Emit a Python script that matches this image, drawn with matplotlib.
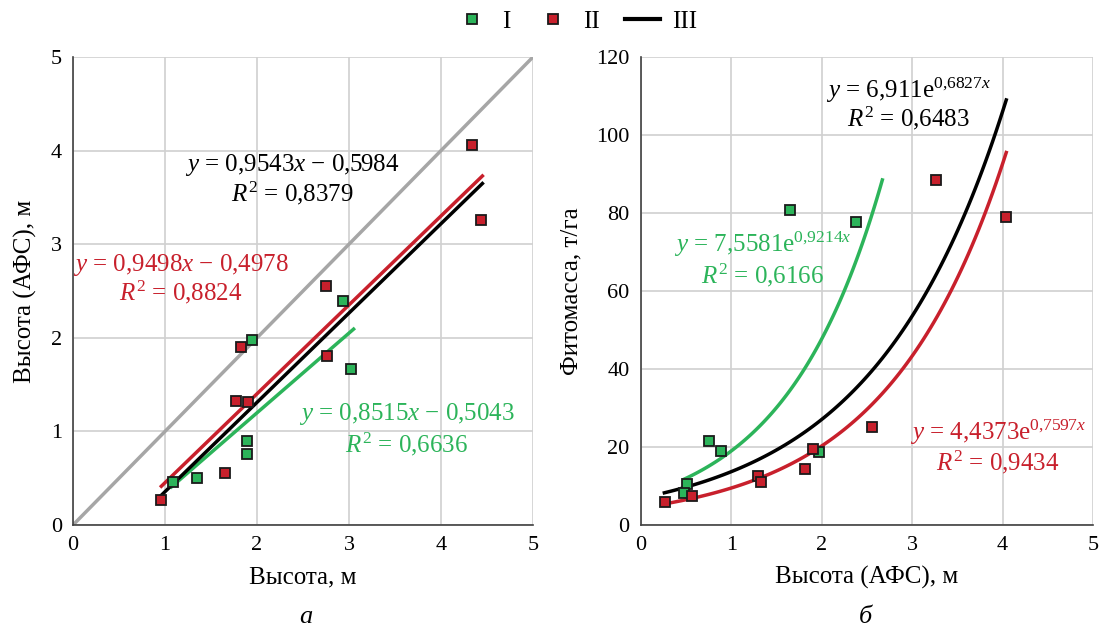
import numpy as np
import matplotlib
matplotlib.use("Agg")
import matplotlib.pyplot as plt
from matplotlib.lines import Line2D

plt.rcParams['font.family'] = ['Liberation Serif', 'DejaVu Serif']
plt.rcParams['mathtext.fontset'] = 'custom'
plt.rcParams['mathtext.rm'] = 'Liberation Serif'
plt.rcParams['mathtext.it'] = 'Liberation Serif:italic'

GREEN = '#2cb45a'
RED = '#c8202c'
GRAY = '#a6a6a6'

# panel a: height (ground) vs height (UAV)
a_x_I = [1.09, 1.35, 1.895, 1.895, 1.95, 2.93, 3.02]
a_y_I = [0.46, 0.50, 0.90, 0.755, 1.98, 2.39, 1.67]
a_x_II = [0.96, 1.65, 1.77, 1.90, 1.83, 2.75, 2.76, 4.34, 4.43]
a_y_II = [0.27, 0.56, 1.32, 1.31, 1.90, 2.55, 1.81, 4.06, 3.26]
lin_I = (0.8515, -0.5043)
lin_II = (0.9498, -0.4978)
lin_III = (0.9543, -0.5984)

# panel b: UAV height vs phytomass
b_x_I = [0.505, 0.48, 0.75, 0.885, 1.65, 2.38, 1.97]
b_y_I = [10.4, 8.3, 21.6, 19.0, 80.7, 77.6, 18.7]
b_x_II = [0.27, 0.57, 1.30, 1.33, 1.82, 1.90, 2.555, 3.26, 4.04]
b_y_II = [5.8, 7.4, 12.6, 11.0, 14.4, 19.5, 25.1, 88.5, 79.0]
exp_I = (7.5581, 0.9214)
exp_II = (4.4373, 0.7597)
exp_III = (6.911, 0.6827)

fig = plt.figure(figsize=(11.03, 6.32), dpi=100)
ax1 = fig.add_axes([0.0662, 0.1693, 0.417, 0.7405])
ax2 = fig.add_axes([0.581, 0.1693, 0.410, 0.7405])

mk = dict(marker='s', ms=6.5, mec='#1a1a1a', mew=1.3, ls='none', zorder=5)

for ax in (ax1, ax2):
    ax.set_xlim(0, 5)
    ax.set_xticks(range(6))
    ax.grid(True, color='#d0d0d0', lw=1.2)
    ax.set_axisbelow(True)
    for s in ('top', 'right'):
        ax.spines[s].set_visible(False)
    for s in ('left', 'bottom'):
        ax.spines[s].set_color('#404040')
        ax.spines[s].set_linewidth(1.2)
    ax.tick_params(length=0, labelsize=16, pad=8)

fs = 18

# --- a ---
ax1.set_ylim(0, 5)
ax1.plot([0, 5], [0, 5], color=GRAY, lw=2.5, zorder=2)
xs = np.linspace(1.07, 3.05, 50)
ax1.plot(xs, lin_I[0] * xs + lin_I[1], color=GREEN, lw=2.5, zorder=3)
xs = np.linspace(0.96, 4.45, 50)
ax1.plot(xs, lin_II[0] * xs + lin_II[1], color=RED, lw=2.5, zorder=3)
ax1.plot(xs, lin_III[0] * xs + lin_III[1], color='black', lw=2.5, zorder=3)
ax1.plot(a_x_I, a_y_I, mfc=GREEN, **mk)
ax1.plot(a_x_II, a_y_II, mfc=RED, **mk)
ax1.set_xlabel('Высота, м', fontsize=fs, labelpad=8)
ax1.set_ylabel('Высота (АФС), м', fontsize=fs, labelpad=10)

ax1.text(2.38, 3.85, r'$y$ = 0,9543$x$ − 0,5984', ha='center', va='center', fontsize=fs, color='black')
ax1.text(2.38, 3.54, r'$R^2$ = 0,8379', ha='center', va='center', fontsize=fs, color='black')
ax1.text(1.17, 2.78, r'$y$ = 0,9498$x$ − 0,4978', ha='center', va='center', fontsize=fs, color=RED)
ax1.text(1.17, 2.49, r'$R^2$ = 0,8824', ha='center', va='center', fontsize=fs, color=RED)
ax1.text(3.63, 1.19, r'$y$ = 0,8515$x$ − 0,5043', ha='center', va='center', fontsize=fs, color=GREEN)
ax1.text(3.63, 0.86, r'$R^2$ = 0,6636', ha='center', va='center', fontsize=fs, color=GREEN)

# --- b ---
ax2.set_ylim(0, 120)
ax2.set_yticks(range(0, 121, 20))
xs = np.linspace(0.48, 2.67, 100)
ax2.plot(xs, exp_I[0] * np.exp(exp_I[1] * xs), color=GREEN, lw=2.5, zorder=3)
xs = np.linspace(0.27, 4.04, 100)
ax2.plot(xs, exp_II[0] * np.exp(exp_II[1] * xs), color=RED, lw=2.5, zorder=3)
xs = np.linspace(0.26, 4.04, 100)
ax2.plot(xs, exp_III[0] * np.exp(exp_III[1] * xs), color='black', lw=2.5, zorder=3)
ax2.plot(b_x_I, b_y_I, mfc=GREEN, **mk)
ax2.plot(b_x_II, b_y_II, mfc=RED, **mk)
ax2.set_xlabel('Высота (АФС), м', fontsize=fs, labelpad=8)
ax2.set_ylabel('Фитомасса, т/га', fontsize=fs, labelpad=10)

ax2.text(2.96, 111.5, r'$y$ = 6,911e$^{\mathrm{0{,}6827}x}$', ha='center', va='center', fontsize=fs, color='black')
ax2.text(2.96, 104.2, r'$R^2$ = 0,6483', ha='center', va='center', fontsize=fs, color='black')
ax2.text(1.35, 72, r'$y$ = 7,5581e$^{\mathrm{0{,}9214}x}$', ha='center', va='center', fontsize=fs, color=GREEN)
ax2.text(1.35, 64, r'$R^2$ = 0,6166', ha='center', va='center', fontsize=fs, color=GREEN)
ax2.text(3.95, 23.8, r'$y$ = 4,4373e$^{\mathrm{0{,}7597}x}$', ha='center', va='center', fontsize=fs, color=RED)
ax2.text(3.95, 16.2, r'$R^2$ = 0,9434', ha='center', va='center', fontsize=fs, color=RED)

fig.text(0.2775, 0.024, 'а', style='italic', fontsize=19, ha='center', va='center')
fig.text(0.785, 0.024, 'б', style='italic', fontsize=19, ha='center', va='center')

handles = [
    Line2D([], [], marker='s', ms=6.5, mfc=GREEN, mec='#1a1a1a', mew=1.3, ls='none'),
    Line2D([], [], marker='s', ms=6.5, mfc=RED, mec='#1a1a1a', mew=1.3, ls='none'),
    Line2D([], [], color='black', lw=3),
]
fig.legend(handles, ['I', 'II', 'III'], loc='center', bbox_to_anchor=(0.522, 0.966),
           ncol=3, frameon=False, fontsize=18, handlelength=1.4, handletextpad=0.5,
           columnspacing=1.0)

fig.savefig('out.png', dpi=100)
